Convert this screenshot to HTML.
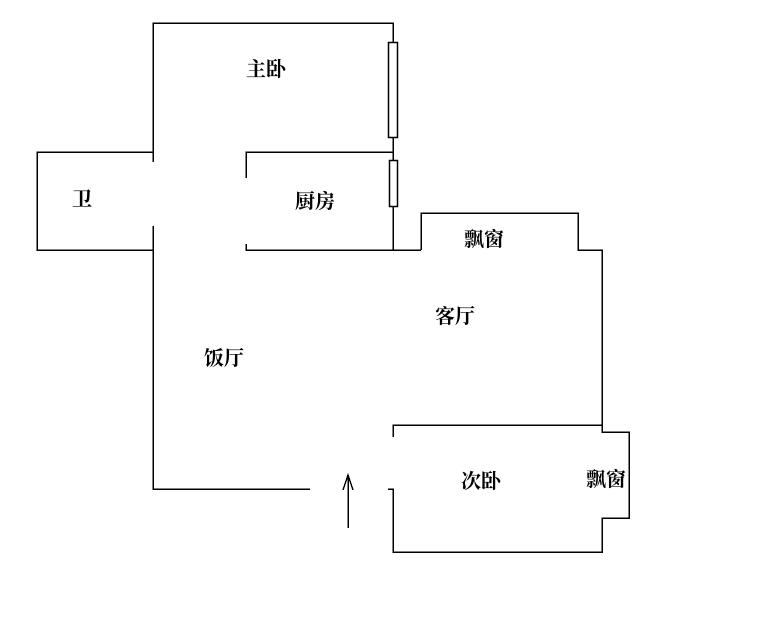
<!DOCTYPE html>
<html><head><meta charset="utf-8"><style>
html,body{margin:0;padding:0;background:#fff;}
svg{display:block;}
text{font-family:"Liberation Serif","Noto Serif CJK SC","Noto Sans CJK SC",serif;font-size:20px;fill:#000;font-weight:bold;}
</style></head><body>
<svg width="769" height="636" viewBox="0 0 769 636" xmlns="http://www.w3.org/2000/svg">
<g stroke="#000" stroke-width="1.5" fill="none" shape-rendering="crispEdges">
<polyline points="153,162 153,23 393,23 393,250"/>
<polyline points="153,152 37,152 37,250 153,250"/>
<polyline points="153,226 153,489 310,489"/>
<polyline points="246,178 246,152 393,152"/>
<polyline points="246,244 246,250 421,250"/>
<polyline points="421,250 421,213 578,213 578,250 602,250 602,432 629,432 629,518 602,518 602,552 393,552 393,489 388,489"/>
<polyline points="393,437 393,425 602,425"/>
<line x1="348" y1="475" x2="348" y2="528"/>
<polyline points="343,490 348,475 353,490"/>
</g>
<rect x="388.5" y="42.5" width="9" height="95" fill="#fff" stroke="#000" stroke-width="1.5"/>
<rect x="389.5" y="160.5" width="8" height="46" fill="#fff" stroke="#000" stroke-width="1.5"/>
<text x="246" y="76">主卧</text>
<text x="72" y="206">卫</text>
<text x="295" y="208">厨房</text>
<text x="464" y="246">飘窗</text>
<text x="435" y="323">客厅</text>
<text x="204" y="365">饭厅</text>
<text x="461" y="488">次卧</text>
<text x="586" y="486">飘窗</text>
</svg>
</body></html>
